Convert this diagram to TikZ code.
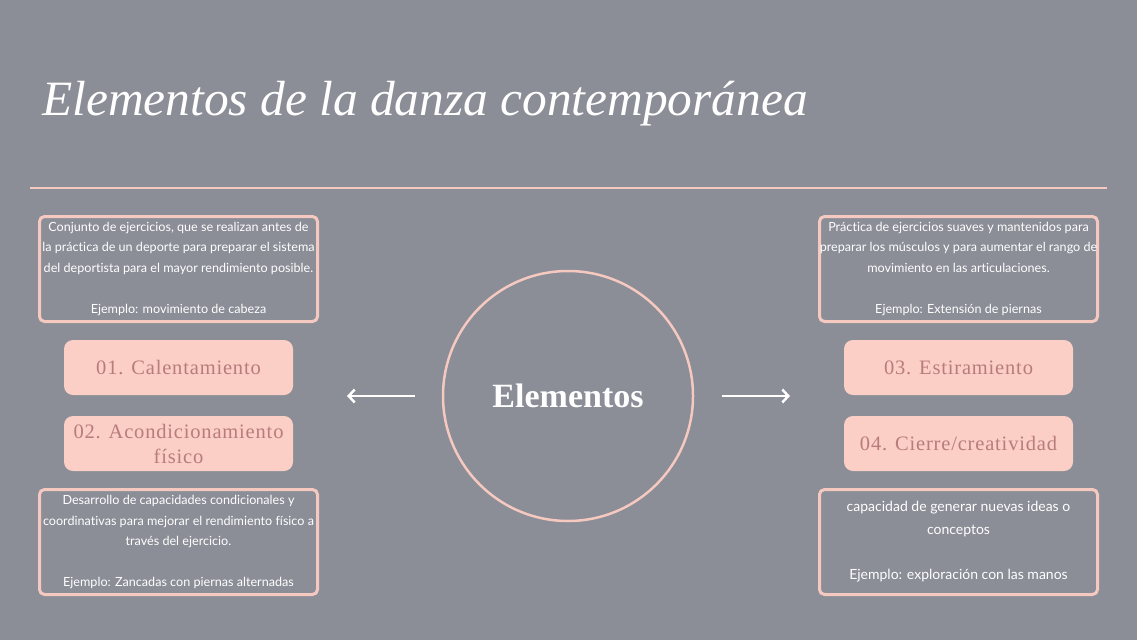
\documentclass[tikz,border=0pt]{standalone}
\usepackage{fontspec}
\setmainfont{Liberation Serif}
\newfontfamily\bodyfont[Ligatures=NoCommon]{Lato}
\newfontfamily\titlefont{Liberation Serif}
\newfontfamily\labelfont[LetterSpace=4]{Liberation Serif}
\usetikzlibrary{arrows.meta}
\definecolor{bgc}{RGB}{139,141,151}
\definecolor{pinkline}{RGB}{245,200,192}
\definecolor{pinkfill}{RGB}{251,206,198}
\definecolor{labeltxt}{RGB}{184,124,124}
\begin{document}
\begin{tikzpicture}[x=1pt,y=-1pt,
  descbox/.style={draw=pinkline, line width=3pt, rounded corners=5pt, fill=bgc,
    minimum width=278pt, minimum height=105pt, inner sep=0pt, align=center,
    text=white, font=\bodyfont\fontsize{12.6}{20.5}\selectfont},
  labelbox/.style={fill=pinkfill, rounded corners=9pt, minimum width=229pt,
    minimum height=55pt, inner sep=0pt, align=center, text=labeltxt,
    font=\labelfont\fontsize{20.5}{25}\selectfont},
  arrowline/.style={draw=white, line width=2.5pt, -{Straight Barb[length=6pt,width=13pt]}}
]
\fill[bgc] (0,0) rectangle (1137,640);
\node[anchor=base west, text=white, inner sep=0pt, font=\titlefont\itshape\fontsize{49.4}{60}\selectfont] (title) at (42,115) {Elementos de la danza contemporánea};
\coordinate (ruleL) at (30,188);
\coordinate (ruleR) at (1107,188);
\draw[pinkline, line width=2pt] (ruleL) -- (ruleR);

\node[descbox] (d1) at (178.5,269) {Conjunto de ejercicios, que se realizan antes de\\la práctica de un deporte para preparar el sistema\\del deportista para el mayor rendimiento posible.\\[20.5pt]Ejemplo: movimiento de cabeza};
\node[labelbox] (l1) at (178.5,367.5) {01. Calentamiento};
\node[labelbox] (l2) at (178.5,443.5) {02. Acondicionamiento\\físico};
\node[descbox] (d2) at (178.5,542) {Desarrollo de capacidades condicionales y\\coordinativas para mejorar el rendimiento físico a\\través del ejercicio.\\[20.5pt]Ejemplo: Zancadas con piernas alternadas};

\node[descbox] (d3) at (958.5,269) {Práctica de ejercicios suaves y mantenidos para\\preparar los músculos y para aumentar el rango de\\movimiento en las articulaciones.\\[20.5pt]Ejemplo: Extensión de piernas};
\node[labelbox] (l3) at (958.5,367.5) {03. Estiramiento};
\node[labelbox] (l4) at (958.5,443.5) {04. Cierre/creatividad};
\node[descbox, font=\bodyfont\fontsize{14}{22.7}\selectfont] (d4) at (958.5,542) {capacidad de generar nuevas ideas o\\conceptos\\[22.7pt]Ejemplo: exploración con las manos};

\node[circle, draw=pinkline, line width=2.5pt, minimum size=250pt, inner sep=0pt,
  text=white, font=\bfseries\fontsize{34}{40}\selectfont] (c) at (568,396) {Elementos};
\coordinate (al1) at (415,396);
\coordinate (al2) at (347,396);
\coordinate (ar1) at (722,396);
\coordinate (ar2) at (790,396);
\draw[arrowline] (al1) -- (al2);
\draw[arrowline] (ar1) -- (ar2);
\end{tikzpicture}
\end{document}
